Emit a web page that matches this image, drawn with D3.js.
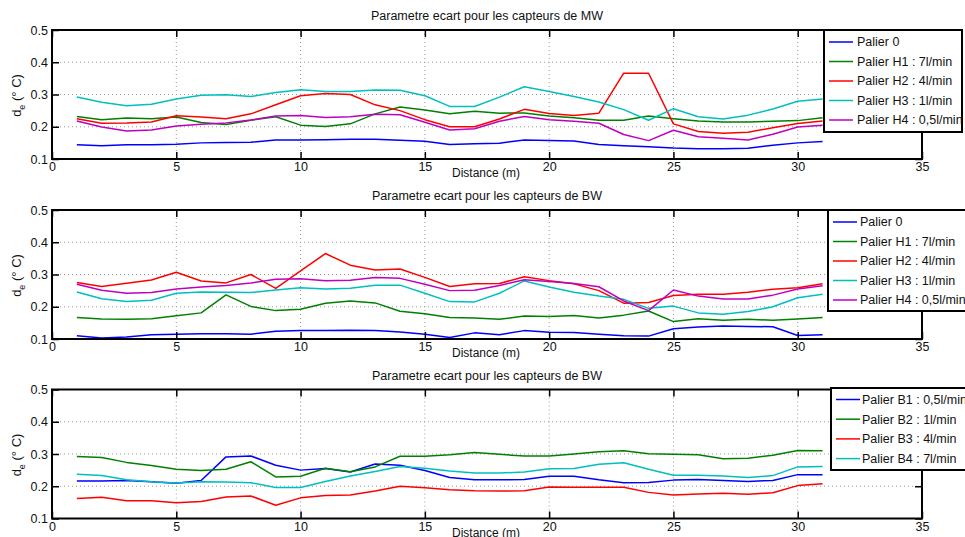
<!DOCTYPE html>
<html><head><meta charset="utf-8">
<script src="https://cdn.jsdelivr.net/npm/d3@7"></script>
<style>body{margin:0;background:#fff}svg{display:block}text{font-family:"Liberation Sans",Arial,Helvetica,sans-serif;fill:#111}</style>
</head><body><svg id="c" width="965" height="537"></svg>
<script>
const distance = d3.range(1, 32);
const xTicks = [0,5,10,15,20,25,30,35];
const yTicks = [0.1,0.2,0.3,0.4,0.5];
const titles = ["Parametre ecart pour les capteurs de MW","Parametre ecart pour les capteurs de BW","Parametre ecart pour les capteurs de BW"];

// Panel 1 (MW)
const mwLabels = ["Palier 0","Palier H1 : 7l/min","Palier H2 : 4l/min","Palier H3 : 1l/min","Palier H4 : 0,5l/min"];
const mwP0 = [0.144,0.141,0.144,0.144,0.146,0.150,0.151,0.152,0.159,0.159,0.160,0.161,0.161,0.158,0.155,0.145,0.147,0.149,0.159,0.157,0.156,0.145,0.141,0.138,0.134,0.132,0.132,0.133,0.143,0.150,0.154];
const mwH1 = [0.232,0.222,0.227,0.225,0.230,0.213,0.207,0.220,0.231,0.205,0.201,0.209,0.240,0.261,0.252,0.240,0.248,0.242,0.243,0.233,0.228,0.220,0.220,0.233,0.225,0.218,0.215,0.215,0.217,0.219,0.228];
const mwH2 = [0.225,0.211,0.212,0.215,0.234,0.230,0.225,0.240,0.268,0.296,0.303,0.300,0.268,0.250,0.222,0.200,0.200,0.224,0.254,0.241,0.235,0.242,0.366,0.366,0.209,0.185,0.180,0.183,0.197,0.210,0.218];
const mwH3 = [0.292,0.276,0.265,0.270,0.286,0.298,0.299,0.294,0.306,0.315,0.309,0.309,0.314,0.313,0.296,0.263,0.263,0.292,0.324,0.309,0.294,0.277,0.253,0.220,0.256,0.231,0.224,0.236,0.255,0.279,0.286];
const mwH4 = [0.218,0.199,0.187,0.190,0.202,0.208,0.212,0.221,0.233,0.235,0.229,0.231,0.239,0.237,0.214,0.190,0.194,0.217,0.232,0.222,0.217,0.211,0.176,0.157,0.189,0.169,0.164,0.159,0.177,0.199,0.205];

// Panel 2 (BW, H)
const bwLabels = ["Palier 0","Palier H1 : 7l/min","Palier H2 : 4l/min","Palier H3 : 1l/min","Palier H4 : 0,5l/min"];
const bwP0 = [0.110,0.103,0.106,0.113,0.115,0.116,0.116,0.115,0.124,0.126,0.126,0.127,0.126,0.122,0.115,0.105,0.119,0.113,0.126,0.121,0.120,0.115,0.110,0.109,0.132,0.137,0.140,0.139,0.138,0.111,0.113];
const bwH1 = [0.167,0.162,0.161,0.163,0.172,0.181,0.237,0.201,0.188,0.192,0.211,0.218,0.212,0.186,0.178,0.167,0.165,0.161,0.171,0.170,0.173,0.165,0.174,0.187,0.154,0.163,0.158,0.161,0.158,0.162,0.167];
const bwH2 = [0.275,0.263,0.273,0.283,0.307,0.280,0.274,0.300,0.257,0.311,0.365,0.329,0.314,0.317,0.291,0.263,0.271,0.272,0.293,0.281,0.271,0.250,0.211,0.213,0.235,0.239,0.239,0.245,0.254,0.259,0.271];
const bwH3 = [0.246,0.225,0.216,0.220,0.242,0.246,0.245,0.244,0.252,0.259,0.255,0.257,0.267,0.267,0.242,0.216,0.215,0.242,0.280,0.261,0.245,0.233,0.223,0.195,0.202,0.181,0.177,0.185,0.200,0.228,0.239];
const bwH4 = [0.270,0.251,0.242,0.244,0.255,0.261,0.266,0.274,0.285,0.287,0.281,0.282,0.291,0.288,0.270,0.250,0.251,0.266,0.284,0.278,0.272,0.262,0.218,0.188,0.252,0.233,0.224,0.224,0.236,0.255,0.265];

// Panel 3 (BW, B)
const bLabels = ["Palier B1 : 0,5l/min","Palier B2 : 1l/min","Palier B3 : 4l/min","Palier B4 : 7l/min"];
const bB1 = [0.216,0.216,0.218,0.214,0.209,0.218,0.291,0.294,0.265,0.250,0.255,0.244,0.269,0.265,0.249,0.227,0.220,0.220,0.221,0.231,0.231,0.220,0.211,0.212,0.219,0.221,0.218,0.215,0.218,0.236,0.236];
const bB2 = [0.292,0.289,0.274,0.264,0.253,0.249,0.253,0.276,0.229,0.231,0.256,0.245,0.260,0.293,0.293,0.298,0.305,0.299,0.294,0.294,0.300,0.307,0.310,0.301,0.299,0.298,0.285,0.287,0.296,0.311,0.310];
const bB3 = [0.162,0.166,0.155,0.155,0.149,0.153,0.167,0.170,0.141,0.164,0.171,0.173,0.185,0.200,0.195,0.189,0.186,0.185,0.186,0.198,0.197,0.197,0.197,0.181,0.173,0.176,0.178,0.175,0.180,0.202,0.208];
const bB4 = [0.237,0.233,0.220,0.214,0.210,0.214,0.213,0.211,0.196,0.196,0.215,0.232,0.246,0.261,0.256,0.247,0.241,0.241,0.244,0.254,0.255,0.268,0.273,0.253,0.234,0.234,0.232,0.227,0.233,0.260,0.261];

const colorsH = ["#0000ff","#008000","#ff0000","#00bfbf","#bf00bf"];
const colorsB = ["#0000ff","#008000","#ff0000","#00bfbf"];

const panels = [
  {top:30, series:[mwP0,mwH1,mwH2,mwH3,mwH4], labels:mwLabels, colors:colorsH, leg:{x:824,y:30,w:138,h:102,lx:829,tx:857,y0:42,dy:19.5}},
  {top:210, series:[bwP0,bwH1,bwH2,bwH3,bwH4], labels:bwLabels, colors:colorsH, leg:{x:828,y:210,w:145,h:101,lx:833,tx:860,y0:222,dy:19.5}},
  {top:389.5, series:[bB1,bB2,bB3,bB4], labels:bLabels, colors:colorsB, leg:{x:831,y:388,w:145,h:82,lx:836,tx:862,y0:399.5,dy:19.7}}
];

const svg = d3.select("#c");
const L = 52, R = 922, H = 129;
const x = d3.scaleLinear().domain([0,35]).range([L,R]);

panels.forEach((p,i)=>{
  const y = d3.scaleLinear().domain([0.1,0.5]).range([p.top+H,p.top]);
  const g = svg.append("g");
  // grid
  g.selectAll(".gx").data(xTicks.slice(1,-1)).join("line")
    .attr("x1",d=>x(d)).attr("x2",d=>x(d)).attr("y1",p.top).attr("y2",p.top+H)
    .attr("stroke","#999").attr("stroke-width",1).attr("stroke-dasharray","1,3");
  g.selectAll(".gy").data(yTicks.slice(1,-1)).join("line")
    .attr("x1",L).attr("x2",R).attr("y1",d=>y(d)).attr("y2",d=>y(d))
    .attr("stroke","#999").attr("stroke-width",1).attr("stroke-dasharray","1,3");
  // lines
  const line = d3.line().x((d,j)=>x(distance[j])).y(d=>y(d));
  p.series.forEach((s,k)=>{
    g.append("path").datum(s).attr("d",line).attr("fill","none")
      .attr("stroke",p.colors[k]).attr("stroke-width",1.5).attr("stroke-linejoin","round");
  });
  // axes (ticks inside)
  const ax = g.append("g").attr("transform",`translate(0,${p.top+H})`)
    .call(d3.axisBottom(x).tickValues(xTicks).tickSizeInner(-7).tickSizeOuter(0).tickPadding(12).tickFormat(d3.format("d")));
  const axT = g.append("g").attr("transform",`translate(0,${p.top})`)
    .call(d3.axisTop(x).tickValues(xTicks).tickSizeInner(-7).tickSizeOuter(0).tickFormat(""));
  const ay = g.append("g").attr("transform",`translate(${L},0)`)
    .call(d3.axisLeft(y).tickValues(yTicks).tickSizeInner(-7).tickSizeOuter(0).tickPadding(4).tickFormat(d3.format(".1f")));
  const ayR = g.append("g").attr("transform",`translate(${R},0)`)
    .call(d3.axisRight(y).tickValues(yTicks).tickSizeInner(-7).tickSizeOuter(0).tickFormat(""));
  [ax,axT,ay,ayR].forEach(a=>{
    a.select(".domain").remove();
    a.selectAll("line").attr("stroke","#000").attr("stroke-width",1.5);
    a.selectAll("text").attr("font-size",12.5).attr("fill","#111").style("font-family","'Liberation Sans',Arial,sans-serif");
  });
  ax.selectAll("text").attr("dy","0.35em").attr("y",8);
  // frame
  g.append("rect").attr("x",L).attr("y",p.top).attr("width",R-L).attr("height",H)
    .attr("fill","none").attr("stroke","#000").attr("stroke-width",2);
  // title
  g.append("text").attr("x",487).attr("y",p.top-10).attr("text-anchor","middle")
    .attr("font-size",12.5).text(titles[i]);
  // xlabel
  g.append("text").attr("x",486).attr("y",p.top+H+18).attr("text-anchor","middle")
    .attr("font-size",12).text("Distance (m)");
  // ylabel
  const yl = g.append("text").attr("transform",`translate(21,${p.top+H/2+1}) rotate(-90)`)
    .attr("text-anchor","middle").attr("font-size",13);
  yl.append("tspan").text("d");
  yl.append("tspan").attr("font-size",9).attr("dy",4).text("e");
  yl.append("tspan").attr("dy",-4).text(" (° C)");
  // legend
  const lg = p.leg;
  g.append("rect").attr("x",lg.x).attr("y",lg.y).attr("width",lg.w).attr("height",lg.h)
    .attr("fill","#fff").attr("stroke","#000").attr("stroke-width",2);
  p.labels.forEach((lab,k)=>{
    const yy = lg.y0 + k*lg.dy;
    g.append("line").attr("x1",lg.lx).attr("x2",lg.lx+24).attr("y1",yy).attr("y2",yy)
      .attr("stroke",p.colors[k]).attr("stroke-width",1.5);
    g.append("text").attr("x",lg.tx).attr("y",yy).attr("dy","0.35em")
      .attr("font-size",12.5).text(lab);
  });
});
</script></body></html>
